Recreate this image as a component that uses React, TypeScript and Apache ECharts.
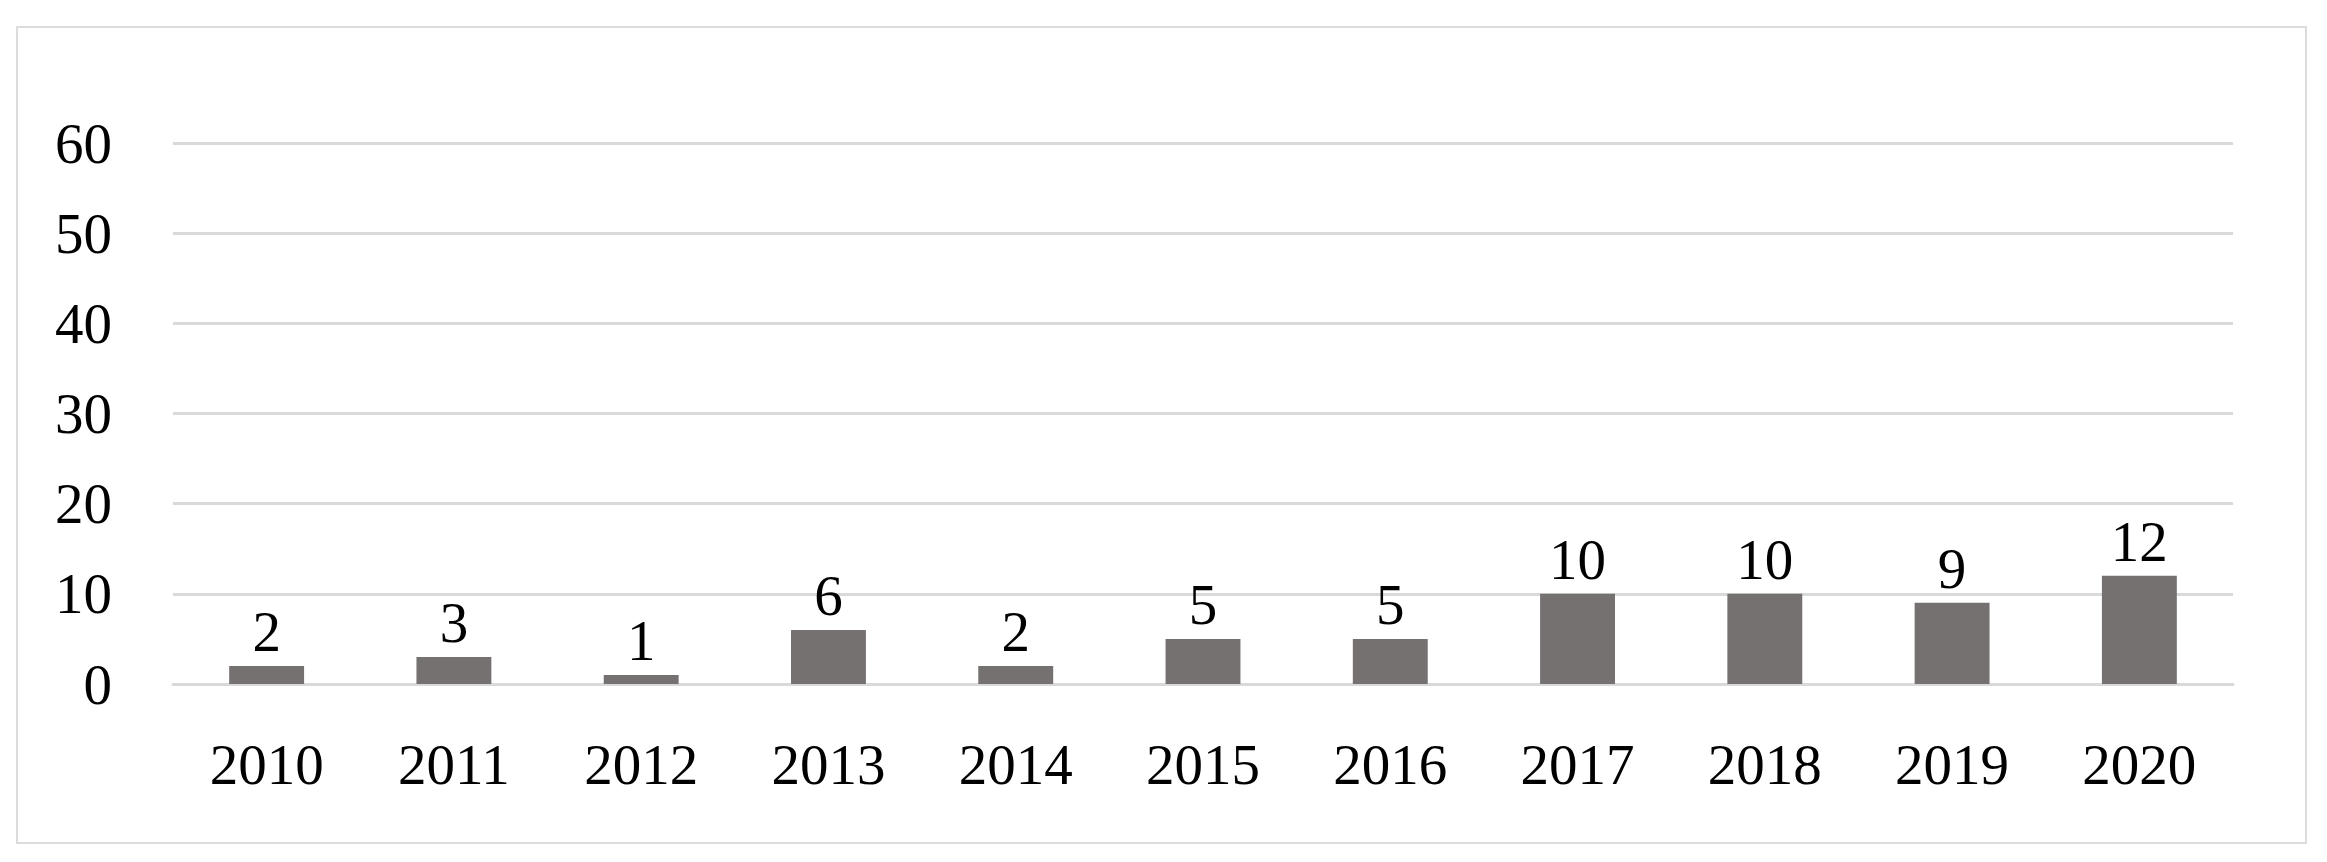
import React, { useEffect, useRef } from "react";
import * as echarts from "echarts";

const years = ["2010", "2011", "2012", "2013", "2014", "2015", "2016", "2017", "2018", "2019", "2020"];
const counts = [2, 3, 1, 6, 2, 5, 5, 10, 10, 9, 12];
const yMin = 0;
const yMax = 60;
const yStep = 10;

const FONT = "'Liberation Serif', 'DejaVu Serif', serif";

export default function App() {
  const ref = useRef<HTMLDivElement>(null);
  useEffect(() => {
    if (!ref.current) return;
    const chart = echarts.init(ref.current, undefined, { renderer: "svg" });
    chart.setOption({
      animation: false,
      backgroundColor: "#ffffff",
      graphic: [
        {
          type: "rect",
          shape: { x: 17, y: 27, width: 2289, height: 816 },
          style: { fill: "none", stroke: "#dcdcdc", lineWidth: 2 },
          silent: true,
        },
      ],
      grid: { left: 173, right: 94, top: 143, bottom: 178, containLabel: false },
      xAxis: {
        type: "category",
        data: years,
        axisLine: { show: true, lineStyle: { color: "#d9d9d9", width: 3 } },
        axisTick: { show: false },
        axisLabel: { color: "#000", fontFamily: FONT, fontSize: 57, margin: 52 },
      },
      yAxis: {
        type: "value",
        min: yMin,
        max: yMax,
        interval: yStep,
        axisLine: { show: false },
        axisTick: { show: false },
        splitLine: { lineStyle: { color: "#d9d9d9", width: 3 } },
        axisLabel: { color: "#000", fontFamily: FONT, fontSize: 57, margin: 61 },
      },
      series: [
        {
          type: "bar",
          data: counts,
          barWidth: "40%",
          itemStyle: { color: "#767171" },
          label: {
            show: true,
            position: "top",
            distance: 6,
            color: "#000",
            fontFamily: FONT,
            fontSize: 57,
          },
        },
      ],
    });
    return () => chart.dispose();
  }, []);
  return (
    <div
      ref={ref}
      style={{ position: "absolute", left: 0, top: 0, width: 2327, height: 862 }}
    />
  );
}
